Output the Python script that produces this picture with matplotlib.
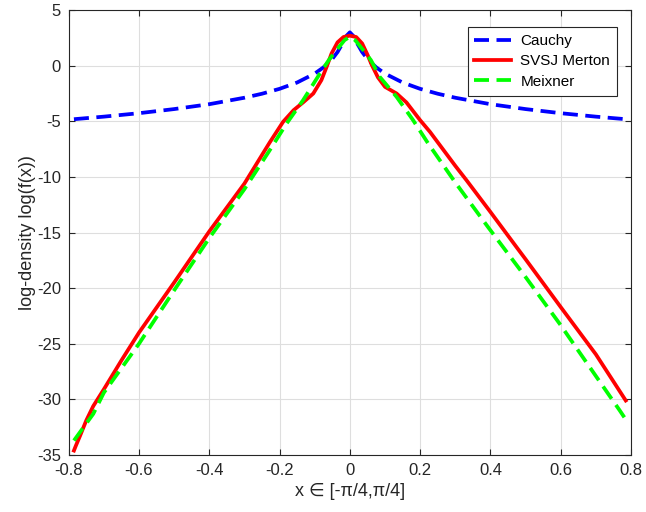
## Log-density comparison: Cauchy vs SVSJ Merton vs Meixner
import numpy as np
import matplotlib
matplotlib.use("Agg")
import matplotlib.pyplot as plt

plt.rcParams["font.family"] = ["Liberation Sans", "DejaVu Sans"]
plt.rcParams["axes.unicode_minus"] = False

## Data
x_cauchy = [-0.785, -0.7, -0.6, -0.5, -0.4, -0.3, -0.25, -0.2, -0.15, -0.1, -0.075, -0.05, -0.035, -0.02, -0.01, 0.0,
            0.01, 0.02, 0.035, 0.05, 0.075, 0.1, 0.15, 0.2, 0.25, 0.3, 0.4, 0.5, 0.6, 0.7, 0.785]
y_cauchy = [-4.81, -4.58, -4.27, -3.90, -3.46, -2.88, -2.52, -2.08, -1.51, -0.71, -0.15, 0.61, 1.23, 2.05, 2.67, 3.0,
            2.67, 2.05, 1.23, 0.61, -0.15, -0.71, -1.51, -2.08, -2.52, -2.88, -3.46, -3.90, -4.27, -4.58, -4.81]

x_merton = [-0.785, -0.78, -0.768, -0.75, -0.73, -0.716, -0.7, -0.65, -0.6, -0.5, -0.4, -0.3, -0.228, -0.19, -0.16,
            -0.133, -0.104, -0.081, -0.066, -0.052, -0.035, -0.018, 0.0, 0.018, 0.035, 0.05, 0.062, 0.08, 0.1,
            0.133, 0.161, 0.2, 0.228, 0.3, 0.332, 0.4, 0.474, 0.5, 0.6, 0.7, 0.785]
y_merton = [-34.6, -34.2, -33.3, -31.9, -30.6, -29.9, -29.1, -26.5, -24.0, -19.5, -14.9, -10.6, -6.9, -5.05, -4.0,
            -3.3, -2.5, -1.3, -0.1, 1.1, 2.1, 2.58, 2.7, 2.58, 2.0, 1.0, 0.1, -1.05, -1.9,
            -2.5, -3.3, -4.9, -5.95, -9.0, -10.3, -13.15, -16.3, -17.4, -21.7, -25.95, -30.1]

x_meixner = [-0.785, -0.73, -0.7, -0.6, -0.5, -0.4, -0.3, -0.228, -0.18, -0.133, -0.085, -0.06, -0.038, -0.015, 0.0,
             0.015, 0.038, 0.06, 0.085, 0.133, 0.18, 0.223, 0.3, 0.393, 0.5, 0.597, 0.7, 0.768, 0.785]
y_meixner = [-33.7, -31.3, -29.4, -25.0, -20.2, -15.5, -11.1, -7.6, -5.2, -3.1, -0.7, 0.5, 1.4, 2.3, 2.6,
             2.3, 1.4, 0.5, -1.0, -2.8, -4.9, -7.0, -10.5, -14.5, -19.0, -23.2, -27.9, -31.0, -31.8]

x_ticks = [-0.8, -0.6, -0.4, -0.2, 0, 0.2, 0.4, 0.6, 0.8]
x_tick_labels = ["-0.8", "-0.6", "-0.4", "-0.2", "0", "0.2", "0.4", "0.6", "0.8"]
y_ticks = [-35, -30, -25, -20, -15, -10, -5, 0, 5]

## Figure
dark = (0.15, 0.15, 0.15)
fig = plt.figure(figsize=(6.46, 5.12), dpi=100)
ax = fig.add_axes([0.1063, 0.1113, 0.8705, 0.869])

ax.plot(x_cauchy, y_cauchy, color=(0, 0, 1), lw=2.7, dashes=(4, 2), label="Cauchy")
ax.plot(x_merton, y_merton, color=(1, 0, 0), lw=2.7, label="SVSJ Merton")
ax.plot(x_meixner, y_meixner, color=(0, 1, 0), lw=2.7, dashes=(4, 2), label="Meixner")

ax.set_xlim(-0.8, 0.8)
ax.set_ylim(-35, 5)
ax.set_xticks(x_ticks)
ax.set_xticklabels(x_tick_labels)
ax.set_yticks(y_ticks)
ax.grid(True, color=(0.87, 0.87, 0.87), lw=0.8)
ax.set_axisbelow(True)

ax.tick_params(direction="in", top=True, right=True, labelsize=12, colors=dark, length=4)
ax.tick_params(axis="x", pad=6)
ax.tick_params(axis="y", pad=5.5)
for s in ax.spines.values():
    s.set_color(dark)
    s.set_linewidth(0.8)

ax.set_xlabel("x \u2208 [-\u03c0/4,\u03c0/4]", fontsize=13, color=dark, labelpad=3)
ax.set_ylabel("log-density log(f(x))", fontsize=13, color=dark, labelpad=1)

leg = ax.legend(loc="upper right", bbox_to_anchor=(0.975, 0.962), fontsize=11, handlelength=2.4,
                handletextpad=0.6, fancybox=False, framealpha=1, edgecolor=dark, borderpad=0.45,
                labelspacing=0.42, borderaxespad=0)
leg.get_frame().set_linewidth(0.8)

fig.savefig("out.png", dpi=100)
